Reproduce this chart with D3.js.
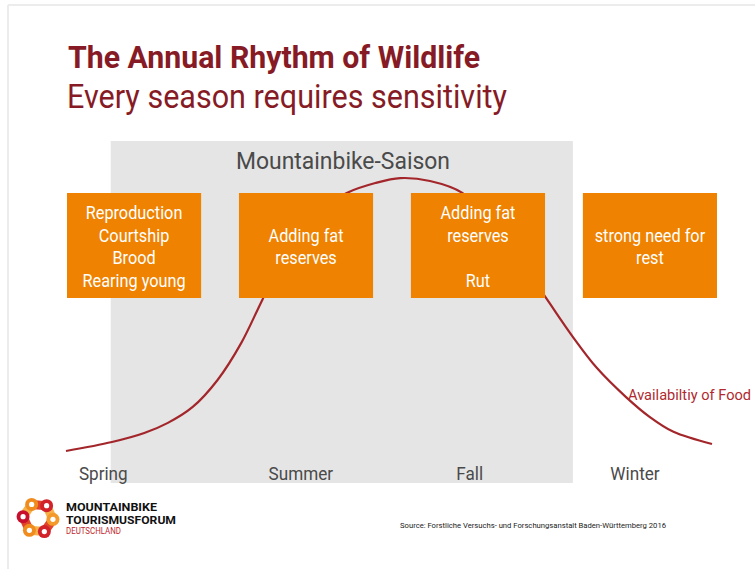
<!DOCTYPE html>
<html>
<head>
<meta charset="utf-8">
<script src="https://cdn.jsdelivr.net/npm/d3@7"></script>
<style>
html,body{margin:0;padding:0;background:#fff;}
svg{display:block;}
</style>
</head>
<body>
<svg id="chart" width="755" height="569"></svg>
<script>
// ---------- data ----------
const titleText = "The Annual Rhythm of Wildlife";
const subtitleText = "Every season requires sensitivity";
const seasons = ["Spring", "Summer", "Fall", "Winter"];
const seasonWeek = [3.0, 18.9, 32.5, 45.8];            // label centre (week of year, starting spring)
const bikeSeasonLabel = "Mountainbike-Saison";
const bikeSeasonWeeks = [3.6, 40.8];                   // start / end of the biking season
const phases = ["Spring phase", "Summer phase", "Fall phase", "Winter phase"];
const phaseLines = [
  ["Reproduction", "Courtship", "Brood", "Rearing young"],
  ["", "Adding fat", "reserves", ""],
  ["Adding fat", "reserves", "", "Rut"],
  ["", "strong need for", "rest", ""]
];
const foodLabel = "Availabiltiy of Food";
const foodWeek  = [0, 3.7, 6.3, 8.2, 10.2, 12.2, 14.1, 15.8, 18.0, 20.4, 22.6, 24.9, 26.9, 29.3, 31.9, 34.1, 36.55, 38.64, 40.81, 42.74, 45.08, 47.0, 48.9, 52];
const foodValue = [3.1, 6.2, 9.3, 12.8, 18.3, 27.6, 40.3, 55.2, 74.1, 86.2, 92.1, 95.5, 97.2, 96.2, 92.1, 82.1, 69.0, 55.9, 42.4, 31.7, 21.7, 14.8, 9.7, 5.5];
const sourceText = "Source: Forstliche Versuchs- und Forschungsanstalt Baden-Württemberg 2016";
const logoLines = ["MOUNTAINBIKE", "TOURISMUSFORUM", "DEUTSCHLAND"];

// ---------- styles ----------
const darkRed = "#861b25";
const curveRed = "#a3262b";
const orange = "#ef8200";
const grayText = "#4a4a4a";
const FONT = "Roboto, 'Liberation Sans', sans-serif";

const svg = d3.select("#chart");

// frame lines
svg.append("line").attr("x1", 8).attr("y1", 5).attr("x2", 755).attr("y2", 5)
  .attr("stroke", "#ececec").attr("stroke-width", 2);
svg.append("line").attr("x1", 8).attr("y1", 5).attr("x2", 8).attr("y2", 569)
  .attr("stroke", "#ececec").attr("stroke-width", 2);

// scales
const x = d3.scaleLinear().domain([0, 52]).range([66, 712]);
const y = d3.scaleLinear().domain([0, 100]).range([460, 170]);
const band = d3.scaleBand().domain(phases).range([67, 717]).paddingInner(0.22).paddingOuter(0);
const boxTop = 193, boxH = 105;

function condense(sel, f) {
  sel.each(function () {
    const w = this.getComputedTextLength();
    if (w > 0) d3.select(this).attr("textLength", w * f).attr("lengthAdjust", "spacingAndGlyphs");
  });
}

// titles
svg.append("text").text(titleText)
  .attr("x", 68).attr("y", 68)
  .attr("font-family", FONT).attr("font-weight", "bold").attr("font-size", 32)
  .attr("fill", darkRed)
  .attr("textLength", 412).attr("lengthAdjust", "spacingAndGlyphs");
svg.append("text").text(subtitleText)
  .attr("x", 67).attr("y", 108)
  .attr("font-family", FONT).attr("font-size", 34)
  .attr("fill", darkRed)
  .attr("textLength", 440).attr("lengthAdjust", "spacingAndGlyphs");

// biking season band
svg.append("rect")
  .attr("x", x(bikeSeasonWeeks[0])).attr("y", 141)
  .attr("width", x(bikeSeasonWeeks[1]) - x(bikeSeasonWeeks[0]))
  .attr("height", 342)
  .attr("fill", "#e5e5e5");
svg.append("text").text(bikeSeasonLabel)
  .attr("x", 343).attr("y", 169).attr("text-anchor", "middle")
  .attr("font-family", FONT).attr("font-size", 23).attr("fill", grayText)
  .attr("textLength", 214).attr("lengthAdjust", "spacingAndGlyphs");

// food curve
const line = d3.line()
  .x((d, i) => x(foodWeek[i]))
  .y(d => y(d))
  .curve(d3.curveCatmullRom.alpha(0.5));
svg.append("path").datum(foodValue)
  .attr("d", line)
  .attr("fill", "none").attr("stroke", curveRed).attr("stroke-width", 2.2);

svg.append("text").text(foodLabel)
  .attr("x", 628).attr("y", 400)
  .attr("font-family", FONT).attr("font-size", 15).attr("fill", "#b02a30")
  .attr("textLength", 123).attr("lengthAdjust", "spacingAndGlyphs");

// phase boxes
const boxes = svg.selectAll("g.phase").data(phases).join("g").attr("class", "phase");
boxes.append("rect")
  .attr("x", d => band(d)).attr("y", boxTop)
  .attr("width", band.bandwidth()).attr("height", boxH)
  .attr("fill", orange);
boxes.each(function (d, i) {
  const g = d3.select(this);
  g.selectAll("text").data(phaseLines[i]).join("text")
    .text(t => t)
    .attr("x", band(d) + band.bandwidth() / 2)
    .attr("y", (t, j) => boxTop + 26 + j * 22.7)
    .attr("text-anchor", "middle")
    .attr("font-family", FONT).attr("font-size", 17.5).attr("fill", "#fff")
    .call(condense, 0.93);
});

// season labels
svg.selectAll("text.season").data(seasons).join("text")
  .attr("class", "season")
  .text(d => d)
  .attr("x", (d, i) => x(seasonWeek[i])).attr("y", 480)
  .attr("text-anchor", "middle")
  .attr("font-family", FONT).attr("font-size", 19).attr("fill", grayText)
  .call(condense, 0.9);

// source
svg.append("text").text(sourceText)
  .attr("x", 400).attr("y", 528)
  .attr("font-family", FONT).attr("font-size", 8).attr("fill", "#222")
  .attr("textLength", 266).attr("lengthAdjust", "spacingAndGlyphs");

// logo
const logo = svg.append("g");
const cx = 38, cy = 518, R = 15;
const linkAngles = [-115, -55, 5, 65, 125, 185];
const linkColors = ["#f08c1e", "#d2232a", "#f39a2a", "#d2232a", "#f08c1e", "#c8102e"];
const pts = linkAngles.map(a => [cx + R * Math.cos(a * Math.PI / 180), cy + R * Math.sin(a * Math.PI / 180)]);
pts.forEach((p, i) => {
  const q = pts[(i + 1) % pts.length];
  logo.append("line").attr("x1", p[0]).attr("y1", p[1]).attr("x2", q[0]).attr("y2", q[1])
    .attr("stroke", i % 2 ? "#f6b24a" : "#e0452b").attr("stroke-width", 9).attr("stroke-linecap", "round");
});
pts.forEach((p, i) => {
  logo.append("circle").attr("cx", p[0]).attr("cy", p[1]).attr("r", 6.5).attr("fill", linkColors[i]);
  logo.append("circle").attr("cx", p[0]).attr("cy", p[1]).attr("r", 2.6).attr("fill", "#fff");
});
logo.append("circle").attr("cx", cx).attr("cy", cy).attr("r", 8).attr("fill", "#fff");
logo.append("text").text(logoLines[0]).attr("x", 66).attr("y", 511)
  .attr("font-family", FONT).attr("font-weight", "bold").attr("font-size", 11.5).attr("fill", "#111")
  .attr("textLength", 91).attr("lengthAdjust", "spacingAndGlyphs");
logo.append("text").text(logoLines[1]).attr("x", 66).attr("y", 524)
  .attr("font-family", FONT).attr("font-weight", "bold").attr("font-size", 11.5).attr("fill", "#111")
  .attr("textLength", 110).attr("lengthAdjust", "spacingAndGlyphs");
logo.append("text").text(logoLines[2]).attr("x", 66).attr("y", 534)
  .attr("font-family", FONT).attr("font-size", 8.5).attr("fill", "#c0272d")
  .attr("textLength", 55).attr("lengthAdjust", "spacingAndGlyphs");
</script>
</body>
</html>
